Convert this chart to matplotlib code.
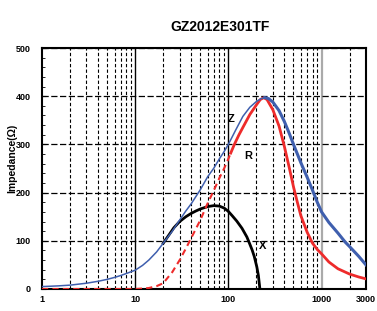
import matplotlib
matplotlib.use("Agg")
import matplotlib.pyplot as plt
from matplotlib.ticker import FixedLocator, MultipleLocator, NullFormatter
import numpy as np

plt.rcParams['font.family'] = ['Liberation Sans', 'DejaVu Sans']

# Impedance curves (frequency in MHz, ohms)
z_freq = [1, 1.5, 2, 3, 4, 5, 6, 7, 8, 10, 12, 14, 17, 20, 25, 30, 35, 40, 50,
          60, 70, 80, 90, 100, 120, 143, 170, 200, 225, 246, 270, 300, 350, 400,
          450, 500, 600, 700, 800, 900, 1000, 1200, 1500, 1800, 2000, 2500, 3000]
z_ohm = [5, 6.5, 8, 12, 16, 20, 24, 28, 32, 39, 49, 60, 77, 95, 120, 143, 162,
         177, 206, 233, 251, 270, 285, 300, 330, 358, 377, 389, 395, 397, 395,
         388, 370, 347, 323, 300, 262, 232, 205, 180, 160, 138, 116, 97, 88, 68, 50]

r_freq = [1, 10, 12, 14, 17, 20, 25, 30, 35, 40, 50, 60, 70, 80, 90, 100, 106,
          116, 130, 143, 170, 200, 220, 240, 260, 300, 350, 400, 450, 500, 550,
          600, 700, 800, 900, 1000, 1200, 1500, 2000, 2500, 3000]
r_ohm = [0, 0, 1, 2, 6, 12, 35, 60, 84, 106, 143, 178, 205, 230, 250, 270, 282,
         300, 320, 335, 362, 382, 393, 397, 393, 372, 338, 295, 252, 212, 180,
         152, 118, 95, 82, 73, 56, 42, 31, 25, 21]
r_dash_end = 106

x_freq = [20, 23, 26, 30, 35, 40, 45, 50, 60, 70, 80, 90, 100, 110, 123, 140,
          158, 170, 180, 190, 202, 210, 218]
x_ohm = [95, 112, 127, 140, 150, 157, 162, 166, 171, 173, 172, 168, 161, 152,
         141, 126, 108, 93, 81, 67, 46, 28, 0]

x_ticks = [1, 10, 100, 1000, 3000]
x_ticklabels = ['1', '10', '100', '1000', '3000']
y_ticks = [0, 100, 200, 300, 400, 500]

fig = plt.figure(figsize=(3.77, 3.11), dpi=100)
ax = fig.add_axes([42 / 377, 1 - 289 / 311, 324 / 377, 241 / 311])

ax.set_xscale('log')
ax.set_xlim(1, 3000)
ax.set_ylim(0, 500)

# grid
minor_x = [m * 10 ** d for d in range(4) for m in range(2, 10) if m * 10 ** d < 3000]
ax.xaxis.set_major_locator(FixedLocator(x_ticks))
ax.xaxis.set_minor_locator(FixedLocator(minor_x))
ax.xaxis.set_minor_formatter(NullFormatter())
ax.set_xticklabels(x_ticklabels)
ax.set_yticks(y_ticks)
ax.yaxis.set_minor_locator(MultipleLocator(20))

ax.grid(which='minor', axis='x', color='black', linestyle=(0, (3, 2)), linewidth=0.8)
ax.grid(which='major', axis='y', color='black', linestyle=(0, (5, 2)), linewidth=0.9)
for f in [10, 100]:
    ax.axvline(f, color='black', linewidth=1.0, zorder=1)
ax.axvline(1000, color='#aaaaaa', linewidth=1.6, zorder=1)

ax.tick_params(axis='x', which='both', length=0, pad=4, labelsize=6.5)
ax.tick_params(axis='y', which='major', direction='in', length=3, pad=8, labelsize=6.5)
ax.tick_params(axis='y', which='minor', direction='in', length=2.5)
for lab in ax.get_xticklabels() + ax.get_yticklabels():
    lab.set_fontweight('bold')
for s in ax.spines.values():
    s.set_linewidth(1.5)

# curves
zf = np.array(z_freq)
zv = np.array(z_ohm)
ax.plot(x_freq, x_ohm, color='black', linewidth=2.0, zorder=3)
ax.plot(zf[zf <= 246], zv[zf <= 246], color='#3f5fae', linewidth=1.1, zorder=4)
ax.plot(zf[zf >= 246], zv[zf >= 246], color='#3f5fae', linewidth=2.2, zorder=4)

rf = np.array(r_freq)
rv = np.array(r_ohm)
ax.plot(rf[rf <= r_dash_end], rv[rf <= r_dash_end], color='#ee2b2b', linewidth=1.5,
        linestyle=(0, (3, 2)), zorder=3)
ax.plot(rf[rf >= r_dash_end], rv[rf >= r_dash_end], color='#ee2b2b', linewidth=2.0, zorder=3)

ax.text(107, 353, 'Z', fontsize=8, fontweight='bold', ha='center', va='center')
ax.text(162, 276, 'R', fontsize=8, fontweight='bold', ha='center', va='center')
ax.text(235, 89, 'X', fontsize=8, fontweight='bold', ha='center', va='center')

fig.text(220 / 377, 1 - 27 / 311, 'GZ2012E301TF', fontsize=10, fontweight='bold',
         ha='center', va='center')
fig.text(12 / 377, 1 - 158 / 311, 'Impedance(Ω)', fontsize=7.5, fontweight='bold',
         rotation=90, ha='center', va='center')

fig.savefig('out.png', dpi=100)
